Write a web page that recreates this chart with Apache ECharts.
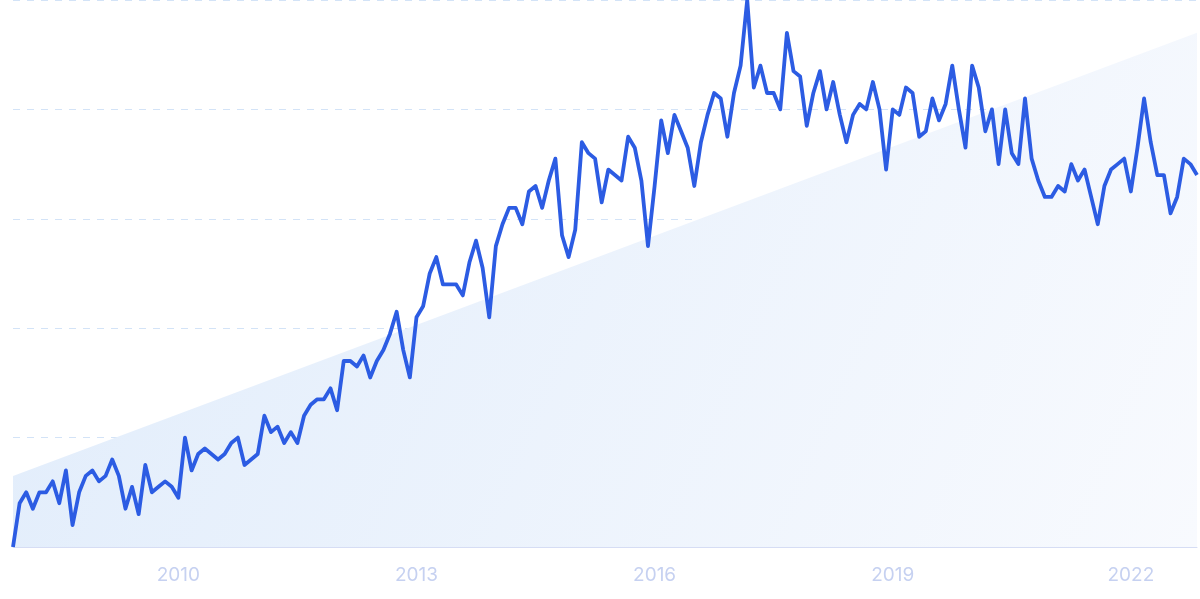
<!DOCTYPE html>
<html>
<head>
<meta charset="utf-8">
<script src="https://cdn.jsdelivr.net/npm/echarts@6/dist/echarts.min.js"></script>
<style>
html,body{margin:0;padding:0;background:#fff;}
#chart{width:1200px;height:599px;}
</style>
</head>
<body>
<div id="chart"></div>
<script>
// Monthly categories, Dec 2007 .. Nov 2022
const startYear = 2007, startMonth = 12, monthCount = 180;
const categories = [];
for (let i = 0; i < monthCount; i++) {
  const m = (startMonth - 1 + i) % 12 + 1;
  const y = startYear + Math.floor((startMonth - 1 + i) / 12);
  categories.push(y + '-' + String(m).padStart(2, '0'));
}
const tickLabels = ['2010', '2013', '2016', '2019', '2022'];

const interest = [
  0, 8, 10, 7, 10, 10, 12, 8, 14, 4,
  10, 13, 14, 12, 13, 16, 13, 7, 11, 6,
  15, 10, 11, 12, 11, 9, 20, 14, 17, 18,
  17, 16, 17, 19, 20, 15, 16, 17, 24, 21,
  22, 19, 21, 19, 24, 26, 27, 27, 29, 25,
  34, 34, 33, 35, 31, 34, 36, 39, 43, 36,
  31, 42, 44, 50, 53, 48, 48, 48, 46, 52,
  56, 51, 42, 55, 59, 62, 62, 59, 65, 66,
  62, 67, 71, 57, 53, 58, 74, 72, 71, 63,
  69, 68, 67, 75, 73, 67, 55, 66, 78, 72,
  79, 76, 73, 66, 74, 79, 83, 82, 75, 83,
  88, 100, 84, 88, 83, 83, 80, 94, 87, 86,
  77, 83, 87, 80, 85, 79, 74, 79, 81, 80,
  85, 80, 69, 80, 79, 84, 83, 75, 76, 82,
  78, 81, 88, 80, 73, 88, 84, 76, 80, 70,
  80, 72, 70, 82, 71, 67, 64, 64, 66, 65,
  70, 67, 69, 64, 59, 66, 69, 70, 71, 65,
  73, 82, 74, 68, 68, 61, 64, 71, 70, 68
];

// Decorative trend band: start and end values
const trendStart = 13, trendEnd = 94;
const trend = [[0, trendStart], [monthCount - 1, trendEnd]];

const chart = echarts.init(document.getElementById('chart'), null, {renderer: 'canvas'});
chart.setOption({
  animation: false,
  grid: {left: 13, right: 3, top: 0, bottom: 52, containLabel: false},
  xAxis: {
    type: 'category',
    data: categories,
    boundaryGap: false,
    axisLine: {show: true, lineStyle: {color: '#d6ddf4', width: 1}},
    axisTick: {show: false},
    splitLine: {show: false},
    axisLabel: {
      interval: function (idx, val) {
        return val.slice(5) === '01' && tickLabels.indexOf(val.slice(0, 4)) >= 0;
      },
      formatter: function (val) { return val.slice(0, 4); },
      color: '#c6d1f1',
      fontSize: 19,
      fontFamily: 'Inter',
      margin: 19
    }
  },
  yAxis: {
    type: 'value',
    min: 0,
    max: 100,
    interval: 20,
    axisLine: {show: false},
    axisTick: {show: false},
    axisLabel: {show: false},
    splitLine: {
      show: true,
      lineStyle: {color: '#d3e3f7', type: [7, 7], width: 1}
    }
  },
  series: [
    {
      type: 'line',
      data: trend,
      symbol: 'none',
      silent: true,
      lineStyle: {width: 0, opacity: 0},
      areaStyle: {
        opacity: 1,
        color: new echarts.graphic.LinearGradient(0, 0, 1, 1, [
          {offset: 0, color: '#e0ecfb'},
          {offset: 1, color: '#f8fafe'}
        ])
      },
      z: 1
    },
    {
      type: 'line',
      data: interest,
      symbol: 'none',
      smooth: false,
      lineStyle: {color: '#2c5ce3', width: 3.8, join: 'round'},
      z: 3
    }
  ]
});
</script>
</body>
</html>
